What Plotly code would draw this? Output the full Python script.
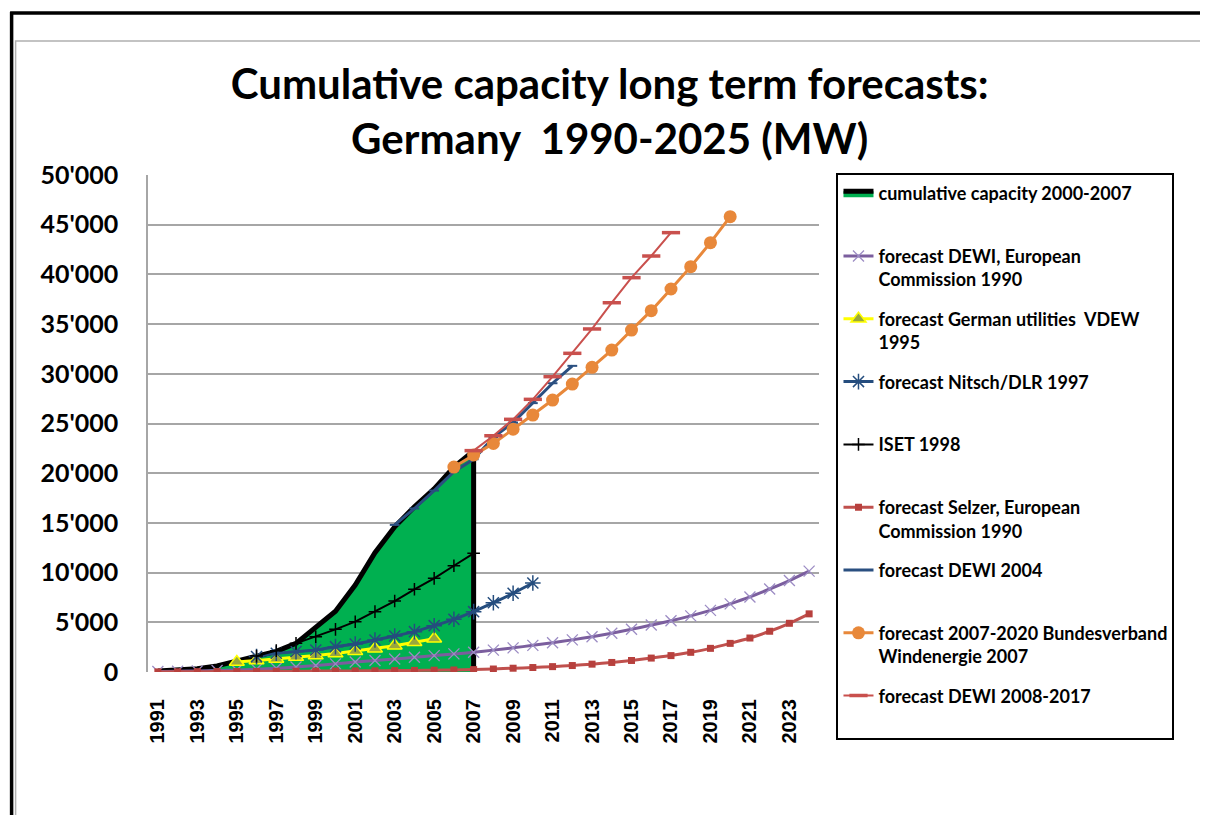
import plotly.graph_objects as go

# ---------------- data ----------------
years_actual = list(range(1991, 2008))
cumulative_capacity = [106, 174, 326, 618, 1121, 1546, 2081, 2875, 4444, 6113,
                       8754, 11994, 14609, 16629, 18428, 20622, 22247]

years_dewi1990 = list(range(1991, 2025))
dewi_ec_1990 = [50, 80, 110, 150, 200, 280, 380, 500, 650, 820, 1000, 1150, 1300,
                1480, 1650, 1820, 1980, 2200, 2430, 2680, 2950, 3230, 3550, 3900,
                4300, 4720, 5150, 5650, 6200, 6850, 7550, 8350, 9200, 10150]

years_vdew = list(range(1995, 2006))
vdew_1995 = [1000, 1150, 1300, 1500, 1650, 1850, 2100, 2350, 2650, 3000, 3350]

years_nitsch = list(range(1996, 2011))
nitsch_dlr_1997 = [1550, 1880, 2050, 2210, 2550, 2820, 3220, 3620, 4060, 4660,
                   5300, 6070, 6970, 7920, 8950]

years_iset = list(range(1996, 2008))
iset_1998 = [1600, 2150, 2880, 3550, 4290, 5060, 6070, 7140, 8320, 9420, 10690, 11940]

years_selzer = list(range(1991, 2025))
selzer_ec_1990 = [10, 20, 30, 40, 50, 60, 70, 80, 90, 100, 110, 120, 140, 160, 180,
                  200, 240, 300, 380, 450, 540, 650, 790, 960, 1160, 1400, 1650,
                  1980, 2380, 2880, 3420, 4100, 4900, 5850]

years_dewi2004 = list(range(2003, 2013))
dewi_2004 = [14800, 16450, 18250, 20150, 21400, 23600, 25100, 27050, 29050, 30800]

years_bwe = list(range(2006, 2021))
bwe_2007 = [20620, 21830, 23000, 24420, 25850, 27360, 28970, 30650, 32390, 34400,
            36350, 38530, 40780, 43190, 45810]

years_dewi0817 = list(range(2007, 2018))
dewi_2008_2017 = [22270, 23770, 25420, 27430, 29710, 32060, 34510, 37150, 39670,
                  41850, 44200]

y_ticks = list(range(0, 50001, 5000))
x_ticks = list(range(1991, 2024, 2))

names = [
    "cumulative capacity 2000-2007",
    "forecast DEWI, European<br>Commission 1990",
    "forecast German utilities  VDEW<br>1995",
    "forecast Nitsch/DLR 1997",
    "ISET 1998",
    "forecast Selzer, European<br>Commission 1990",
    "forecast DEWI 2004",
    "forecast 2007-2020 Bundesverband<br>Windenergie 2007",
    "forecast DEWI 2008-2017",
]

# ---------------- figure ----------------
fig = go.Figure()

def nm(s):
    s = "<b>" + s.replace("<br>", "</b><br><b>") + "</b>"
    return s if "<br>" in s else s + "<br> "

fig.add_trace(go.Scatter(
    x=years_actual + [years_actual[-1]], y=cumulative_capacity + [0],
    mode="lines", fill="tozeroy", fillcolor="#00B050",
    line=dict(color="black", width=5),
    name=nm(names[0]), legendgroup="g0"))

fig.add_trace(go.Scatter(
    x=years_dewi1990, y=dewi_ec_1990, mode="lines+markers",
    line=dict(color="#7B5E9E", width=3, shape="spline", smoothing=0.6),
    marker=dict(symbol="x-thin-open", size=11, color="#9C8CC4",
                line=dict(color="#9C8CC4", width=1.3)),
    name=nm(names[1]), legendgroup="g1"))

fig.add_trace(go.Scatter(
    x=years_vdew, y=vdew_1995, mode="lines+markers",
    line=dict(color="#FFFF00", width=3),
    marker=dict(symbol="triangle-up", size=13, color="#9AA83C",
                line=dict(color="#FFFF00", width=1.5)),
    name=nm(names[2]), legendgroup="g2"))

fig.add_trace(go.Scatter(
    x=years_nitsch, y=nitsch_dlr_1997, mode="lines+markers",
    line=dict(color="#254D7E", width=3, shape="spline", smoothing=0.6),
    marker=dict(symbol="asterisk-open", size=13,
                line=dict(color="#3F6294", width=1.5)),
    name=nm(names[3]), legendgroup="g3"))

fig.add_trace(go.Scatter(
    x=years_iset, y=iset_1998, mode="lines+markers",
    line=dict(color="black", width=2),
    marker=dict(symbol="cross-thin-open", size=9,
                line=dict(color="black", width=1.5)),
    name=nm(names[4]), legendgroup="g4"))

fig.add_trace(go.Scatter(
    x=years_selzer, y=selzer_ec_1990, mode="lines+markers",
    line=dict(color="#C0504D", width=3, shape="spline", smoothing=0.6),
    marker=dict(symbol="square", size=7, color="#B7403D"),
    name=nm(names[5]), legendgroup="g5"))

fig.add_trace(go.Scatter(
    x=years_dewi2004, y=dewi_2004, mode="lines+markers",
    line=dict(color="#2A4F80", width=3),
    marker=dict(symbol="line-ew-open", size=7,
                line=dict(color="#C9A0B0", width=2)),
    name=nm(names[6]), legendgroup="g6"))

fig.add_trace(go.Scatter(
    x=years_bwe, y=bwe_2007, mode="lines+markers",
    line=dict(color="#E8883A", width=3),
    marker=dict(symbol="circle", size=13, color="#E8883A"),
    name=nm(names[7]), legendgroup="g7"))

fig.add_trace(go.Scatter(
    x=years_dewi0817, y=dewi_2008_2017, mode="lines+markers",
    line=dict(color="#C9504D", width=2),
    marker=dict(symbol="line-ew-open", size=13,
                line=dict(color="#C9504D", width=3.5)),
    name=nm(names[8]), legendgroup="g8"))

# ---------------- layout ----------------
OFF = 8  # page body margin
W, H = 1200, 807
L, R, T, B = 148 - OFF, 819.5 - OFF, 175 - OFF, 672 - OFF

def px2x(p):
    return (p - OFF - L) / (R - L)

def px2y(p):
    return (B - (p - OFF)) / (B - T)

fig.update_layout(
    width=W, height=H,
    margin=dict(l=L, r=W - R, t=T, b=H - B, pad=0),
    paper_bgcolor="white", plot_bgcolor="white",
    font=dict(family="Lato, 'Open Sans', sans-serif", color="black"),
    title=dict(text="<b>Cumulative capacity long term forecasts:<br>Germany  1990-2025 (MW)</b>",
               x=px2x(610), xref="paper", xanchor="center",
               y=1 - (99 - OFF) / H, yref="container", yanchor="middle",
               font=dict(size=42, family="Lato, sans-serif", color="black")),
    showlegend=True,
    legend=dict(
        x=px2x(837), y=px2y(173), xanchor="left", yanchor="top",
        bordercolor="black", borderwidth=2, bgcolor="white",
        font=dict(size=18, family="Lato, sans-serif", color="black"),
        valign="top", tracegroupgap=13, traceorder="grouped",
        itemwidth=30, maxheight=700,
    ),
    xaxis=dict(
        range=[1990.5, 2024.5], tickmode="array", tickvals=x_ticks,
        ticktext=[f"<b>{v}</b>" for v in x_ticks], tickangle=-90,
        tickfont=dict(size=20, family="Liberation Sans, Arial, sans-serif"),
        showgrid=False, zeroline=False, showline=False, ticks="",
        ticklabelstandoff=22,
    ),
    yaxis=dict(
        range=[0, 50000], tickmode="array", tickvals=y_ticks,
        ticktext=["<b>" + f"{v:,}".replace(",", "'") + "</b>" for v in y_ticks],
        tickfont=dict(size=25, family="Lato, sans-serif"),
        showgrid=True, gridcolor="#A6A6A6", gridwidth=1.5,
        zeroline=False, showline=True, linecolor="#A6A6A6", linewidth=1.5,
        ticks="", ticklabelstandoff=23,
    ),
)

# page frame: outer black frame and inner thin gray chart border
fig.add_shape(type="line", xref="paper", yref="paper",
              x0=px2x(10), x1=px2x(1210), y0=px2y(13), y1=px2y(13),
              line=dict(color="black", width=3.5), layer="below")
fig.add_shape(type="line", xref="paper", yref="paper",
              x0=px2x(11.5), x1=px2x(11.5), y0=px2y(12), y1=px2y(830),
              line=dict(color="black", width=3.5), layer="below")
fig.add_shape(type="rect", xref="paper", yref="paper",
              x0=px2x(15.5), x1=px2x(1205), y0=px2y(41), y1=px2y(840),
              line=dict(color="#B0B0B0", width=1.5), layer="below")

fig.write_html("out.html")
